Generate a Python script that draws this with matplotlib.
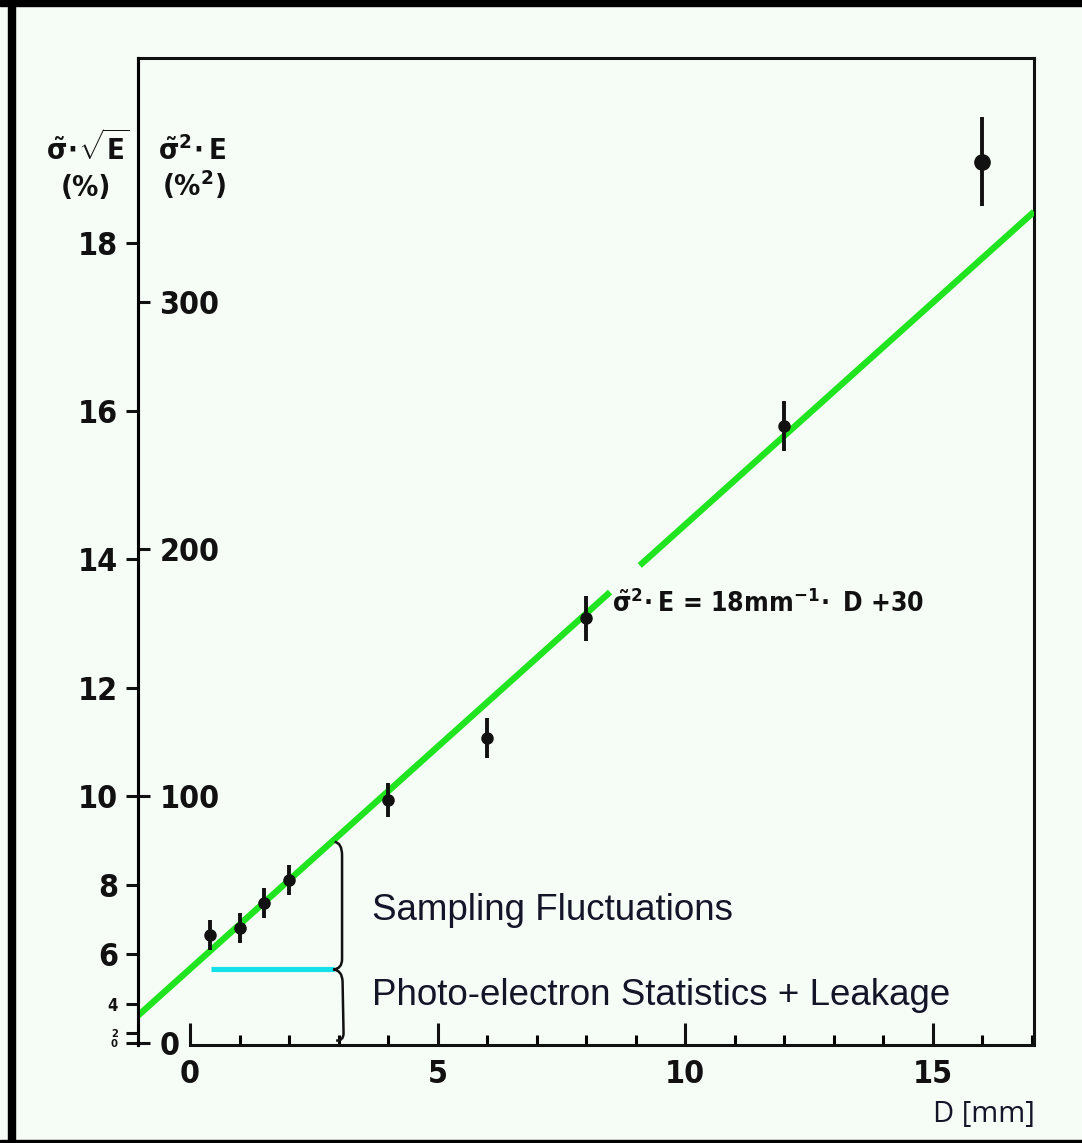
import matplotlib
matplotlib.use("Agg")
import matplotlib.pyplot as plt
from matplotlib.patches import Rectangle, PathPatch
from matplotlib.path import Path
import numpy as np

# Measured energy resolution versus absorber thickness
thickness_mm = np.array([0.4, 1.0, 1.5, 2.0, 4.0, 6.0, 8.0, 12.0, 16.0])
sigma2E = np.array([43.8, 46.6, 56.7, 66.0, 98.5, 123.6, 172.0, 250.0, 357.0])
sigma2E_err = np.array([6.0, 6.0, 6.0, 6.0, 7.0, 8.0, 9.0, 10.0, 18.0])

# Linear fit sigma^2 E = slope * D + offset
fit_slope = 18.0
fit_offset = 30.0

# Axis scales: sigma*sqrt(E) [%] (left, outside) and sigma^2*E [%^2] (inside)
res_ticks = [0, 2, 4, 6, 8, 10, 12, 14, 16, 18]
var_ticks = [0, 100, 200, 300]
x_major = [0, 5, 10, 15]
x_minor = list(range(0, 18))

BG = "#f6fcf6"
INK = "#111111"
plt.rcParams["font.family"] = ["DejaVu Sans"]
plt.rcParams["font.stretch"] = "condensed"
plt.rcParams["mathtext.fontset"] = "custom"
plt.rcParams["mathtext.rm"] = "DejaVu Sans:stretch=condensed:weight=bold"
plt.rcParams["mathtext.it"] = "DejaVu Sans:stretch=condensed:weight=bold"
plt.rcParams["mathtext.bf"] = "DejaVu Sans:stretch=condensed:weight=bold"

TICKFONT = dict(family="DejaVu Sans", stretch="condensed", weight="bold")

W, H = 1082, 1143
fig = plt.figure(figsize=(W / 100, H / 100), dpi=100, facecolor=BG)

# scanned-page frame
for (x0, y0, w, h) in [(0, H - 6, W, 6), (8, 0, 7, H), (0, 0, W, 3)]:
    fig.patches.append(Rectangle((x0 / W, y0 / H), w / W, h / H,
                                 transform=fig.transFigure, color="black", zorder=0))

left, right, top, bottom = 138, 1034, 58, 1045
ax = fig.add_axes([left / W, 1 - bottom / H, (right - left) / W, (bottom - top) / H])
ax.set_facecolor(BG)
xlim = (-1.05, 17.04)
ylim = (-0.8, 399.0)
ax.set_xlim(*xlim)
ax.set_ylim(*ylim)

for s in ax.spines.values():
    s.set_linewidth(2.2)
    s.set_color(INK)
ax.spines["bottom"].set_bounds(0, xlim[1])

# x axis: inward ticks on every millimetre
ax.set_xticks(x_major)
ax.set_xticklabels([str(v) for v in x_major], fontsize=23, **TICKFONT)
ax.set_xticks(x_minor, minor=True)
ax.tick_params(axis="x", which="major", direction="in", length=16, width=2.2,
               pad=10, colors=INK, top=False)
ax.tick_params(axis="x", which="minor", direction="in", length=7, width=2.2,
               top=False)

# left scale: sigma*sqrt(E)
ax.set_yticks([v ** 2 for v in res_ticks])
ax.set_yticklabels([str(v) for v in res_ticks], fontsize=23, **TICKFONT)
ax.tick_params(axis="y", direction="out", length=8.5, width=2.2, pad=6,
               colors=INK, right=False)
for lab, v in zip(ax.get_yticklabels(), res_ticks):
    if v <= 4:
        lab.set_fontsize(12 if v == 4 else 8)

# inner scale: sigma^2 * E
ax2 = ax.twinx()
ax2.set_ylim(*ylim)
for name, s in ax2.spines.items():
    s.set_visible(name == "right")
ax2.spines["right"].set_position(("axes", 0))
ax2.spines["right"].set_linewidth(2.2)
ax2.set_yticks(var_ticks)
ax2.set_yticklabels([str(v) for v in var_ticks], fontsize=23, **TICKFONT)
ax2.tick_params(axis="y", direction="out", length=8.5, width=2.2, pad=7,
                colors=INK)

# axis headers
hdr = dict(transform=fig.transFigure, fontsize=21, color=INK, ha="center",
           va="baseline", **TICKFONT)
fig.text(88 / W, 1 - 160 / H, r"$\tilde{\sigma}\!\cdot\!\sqrt{\mathrm{E}}$", **hdr)
fig.text(86 / W, 1 - 196 / H, "(%)", **hdr)
fig.text(192 / W, 1 - 160 / H, r"$\tilde{\sigma}^{2}\!\cdot\mathrm{E}$", **hdr)
fig.text(194 / W, 1 - 196 / H, r"(%$^{2}$)", **hdr)

# fitted line, interrupted where its label sits
d1 = np.array([xlim[0], 8.48])
d2 = np.array([9.08, xlim[1]])
for d in (d1, d2):
    ax.plot(d, fit_slope * d + fit_offset, color="#20e420", lw=4.6,
            solid_capstyle="butt", zorder=3)

ax.text(8.52, 174.5,
        r"$\tilde{\sigma}^{2}\!\cdot\mathrm{E}$ = 18mm$^{-1}\!\cdot$ D +30",
        fontsize=19, color=INK, ha="left", va="baseline", **TICKFONT)

# constant term of the fit
ax.plot([0.42, 2.9], [fit_offset, fit_offset], color="#14e0ec", lw=3.7,
        solid_capstyle="butt", zorder=3)

# measurements
ms = np.where(thickness_mm > 14, 11, 8)
for d, v, e, m in zip(thickness_mm, sigma2E, sigma2E_err, ms):
    ax.errorbar(d, v, yerr=e, fmt="o", color=INK, ms=m, elinewidth=2.8,
                capsize=0, zorder=4)

# braces separating the two contributions
verts = [
    (2.92, 81.5), (3.07, 81.0), (3.07, 76.0),
    (3.07, 34.0),
    (3.07, 30.0), (2.89, 29.8),
    (3.07, 29.5), (3.08, 25.0),
    (3.1, 4.0),
    (3.1, 0.8), (2.95, 1.0),
]
codes = [Path.MOVETO, Path.CURVE3, Path.CURVE3, Path.LINETO,
         Path.CURVE3, Path.CURVE3, Path.CURVE3, Path.CURVE3,
         Path.LINETO, Path.CURVE3, Path.CURVE3]
ax.add_patch(PathPatch(Path(verts, codes), fill=False, lw=1.8,
                       edgecolor=INK, zorder=3))

note = dict(fontsize=26.5, color="#15152a", ha="left", va="baseline",
            family="Liberation Sans", stretch="normal")
ax.text(3.67, 50.0, "Sampling Fluctuations", **note)
ax.text(3.67, 15.5, "Photo-electron Statistics + Leakage", **note)

fig.text(1035 / W, 1 - 1122 / H, "D [mm]", transform=fig.transFigure,
         fontsize=21, color="#15152a", ha="right", va="baseline",
         family="Open Sans", stretch="normal")

fig.savefig("out.png", dpi=100, facecolor=BG)
